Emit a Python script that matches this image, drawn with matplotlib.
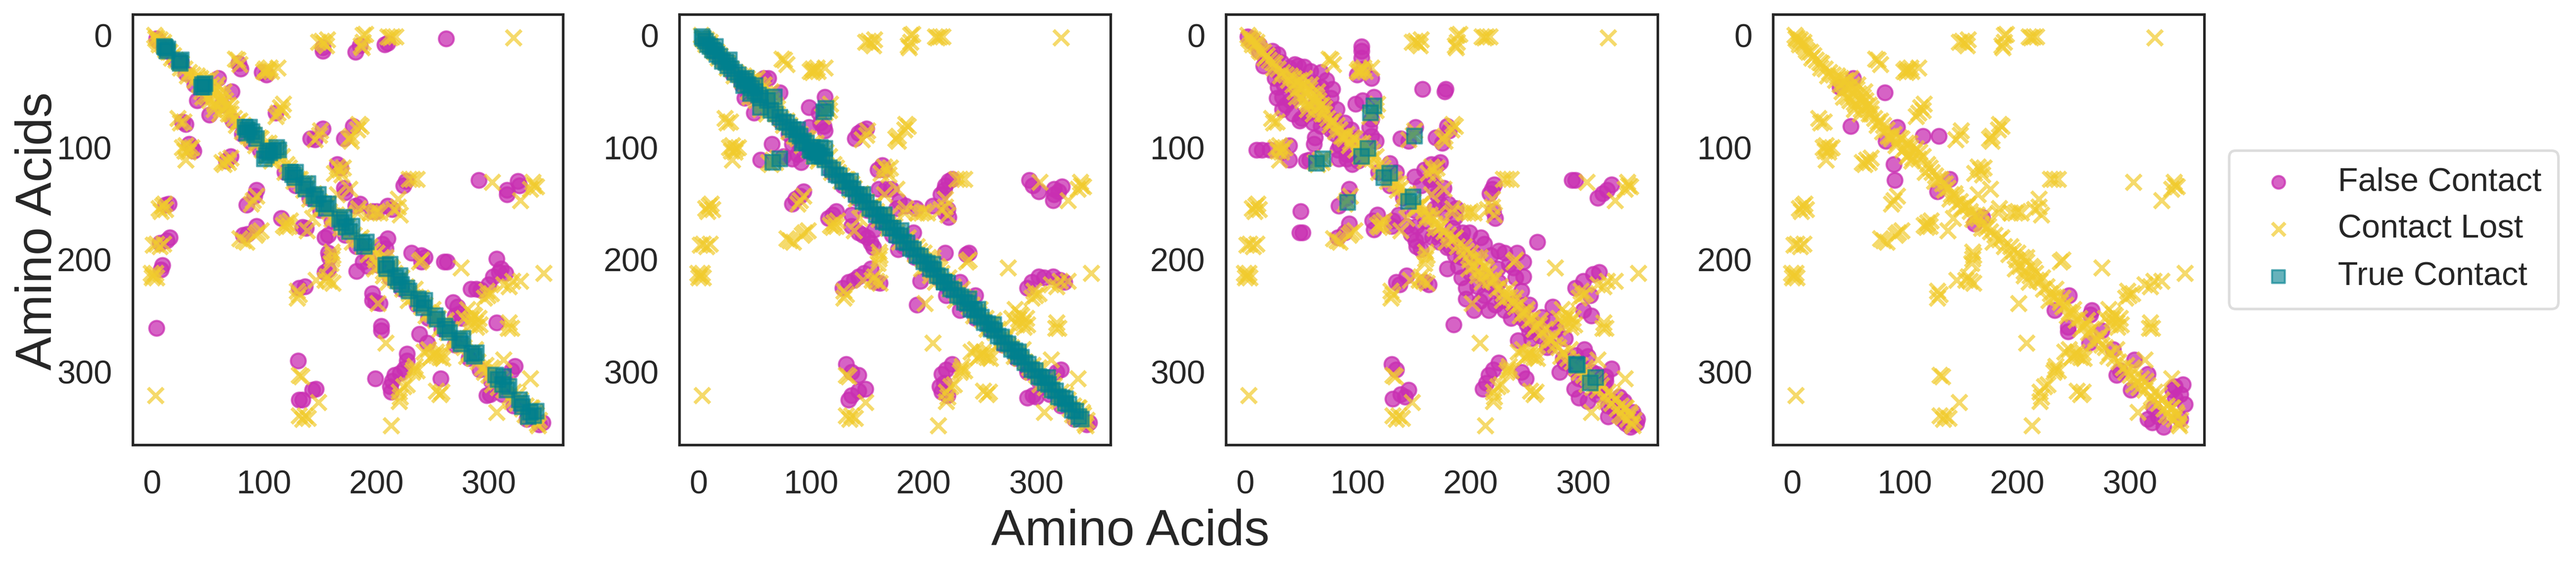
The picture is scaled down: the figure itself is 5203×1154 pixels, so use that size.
import numpy as np
import matplotlib
matplotlib.use("Agg")
import matplotlib.pyplot as plt

plt.rcParams['font.family'] = ['Liberation Sans', 'DejaVu Sans']
INK = '#262626'
PURPLE = '#C92FB2'
YELLOW = '#F1CB2C'
TEAL = '#00808F'

tick_values = [0, 100, 200, 300]
axis_label = 'Amino Acids'
legend_labels = ['False Contact', 'Contact Lost', 'True Contact']

# Contact-lost points: the same native off-diagonal set appears in every panel
lost_off = [(153,7),(155,9),(151,5),(148,6),(156,4),(188,0),(188,6),(187,11),(190,-1),(186,9),(214,1),(212,2),(217,1),(210,1),(322,2),
 (76,22),(78,26),(74,21),(101,30),(105,29),(112,29),(101,33),(103,31),(99,32),(106,32),
 (114,64),(112,69),(117,61),(110,72),(116,67),(23,74),(25,78),(28,77),(184,79),(183,84),(186,81),
 (177,94),(177,90),(175,92),(149,89),(145,93),(150,85),(30,98),(29,103),(33,101),(35,100),(27,100),(30,111),(32,104),
 (66,111),(64,115),(70,109),(62,113),(68,113),(167,120),(162,123),(170,118),(169,124),(165,117),(232,128),(229,128),(236,128),
 (303,131),(340,134),(337,137),(342,135),(339,131),(328,147),(9,152),(6,154),(11,150),(8,157),(12,155),
 (90,147),(88,150),(93,143),(176,137),(165,142),(219,146),(215,155),(221,160),(219,153),(198,158),(194,158),(203,158),(200,157),
 (184,154),(183,158),(120,167),(117,169),(123,165),(119,171),(122,170),(143,163),(138,174),(94,176),(97,174),(92,178),(81,183),(78,181),(84,184),
 (1,187),(4,186),(10,186),(7,188),(1,214),(3,212),(0,216),(4,216),(-1,212),(160,193),(160,199),(159,203),(161,196),
 (146,218),(156,215),(161,221),(158,219),(154,218),(129,228),(129,234),(131,231),(201,239),(240,200),(238,202),(275,207),(349,212),
 (328,219),(321,219),(313,222),(318,224),(299,232),(296,234),(302,230),(298,228),
 (285,248),(288,256),(283,258),(291,252),(287,250),(284,253),(289,260),(281,244),(278,252),(292,258),
 (318,256),(320,261),(317,261),(208,274),(253,285),(246,280),(250,285),(256,287),(248,287),(258,283),(242,282),(253,282),(259,288),
 (233,298),(234,295),(232,300),(236,299),(131,303),(133,304),(224,313),(220,318),(220,326),(221,322),(227,311),
 (258,318),(253,317),(256,320),(3,321),(148,327),(136,339),(131,339),(139,341),(134,342),(213,348),(307,336),(337,306),(313,289),(303,311)]

lost_diag_x = [2,4,5,7,9,11,12,14,16,19,21,24,26,29,33,36,38,40,42,43,44,46,47,49,50,52,54,55,57,58,60,61,63,64,66,68,70,73,76,78,81,84,87,90,93,
 95,98,101,103,105,107,110,112,116,120,124,127,130,133,135,138,141,144,146,149,152,155,158,161,165,168,170,172,176,180,184,188,192,196,199,
 202,204,206,208,211,214,217,220,223,226,229,232,235,238,240,243,246,249,252,255,258,261,263,266,269,272,275,278,282,286,290,294,297,300,304,
 307,310,313,316,319,322,325,328,330,333,335,337,339,341,343,345]
lost_diag_y = [0,2,5,4,8,10,13,15,15,18,22,24,25,30,33,35,40,36,44,38,50,41,47,55,46,38,52,60,48,44,57,66,55,50,63,70,65,74,77,76,80,84,90,88,95,
 91,102,96,106,100,109,101,110,108,115,122,125,128,132,138,136,142,141,150,148,153,152,157,161,163,168,160,172,175,178,182,188,195,192,200,
 206,198,210,202,214,208,218,219,226,224,230,233,233,238,242,240,247,248,254,252,259,258,265,262,270,271,276,278,283,288,291,296,294,303,305,
 309,306,316,312,322,318,328,325,333,330,340,332,342,336,346,343]
lost_dense = [(3,3),(6,8),(10,6),(17,20),(25,29),(31,36),(48,40),(53,44),(45,55),(51,58),(56,62),(59,52),(62,60),(65,58),(68,62),(60,70),(55,66),(70,70),(75,80),(80,86),(85,90),(88,92),
 (92,98),(97,92),(100,100),(104,96),(108,104),(106,112),(102,108),(113,104),(118,122),(122,118),(126,130),(132,128),(136,132),(140,146),(145,144),(150,154),(156,150),(160,164),(164,160),
 (168,172),(174,170),(178,184),(186,180),(194,188),(200,194),(198,208),(208,198),(206,214),(212,206),(210,220),(216,212),(222,216),(228,236),(234,226),(240,234),(244,250),(250,244),
 (256,262),(262,254),(268,274),(274,268),(280,286),(288,280),(296,300),(302,296),(308,314),(314,308),(320,326),(326,320),(332,338),(338,332),(344,348),(342,338)]

# False-contact points near the diagonal, shared by the first three panels
false_diag = [(5,5),(12,14),(20,22),(30,34),(38,44),(46,54),(62,62),(72,76),(80,88),(88,95),(96,102),(118,122),(128,134),(140,145),(150,156),
 (160,165),(172,178),(182,188),(192,198),(202,205),(212,216),(222,226),(236,240),(246,252),(258,262),(270,276),(282,288),(292,298),(302,308),(312,320),(322,330),(334,342),(345,347)]

false_1 = [(4,3),(26,24),(59,38),(71,50),(40,58),(51,71),(152,14),(152,11),(185,9),(181,15),(210,7),(207,8),(262,3),(77,25),(79,30),(102,35),(98,33),(110,69),
 (27,77),(30,79),(152,83),(141,92),(145,93),(179,81),(171,92),(33,97),(37,103),(35,100),(70,108),(66,112),(165,115),(168,118),(226,130),(224,134),(291,129),(326,130),(327,134),(316,142),(316,138),
 (171,136),(172,140),(93,138),(91,143),(84,151),(15,150),(12,151),(181,152),(185,150),(196,157),(200,157),(210,152),(214,155),(115,163),(137,172),(134,171),(93,170),(81,178),(85,177),
 (16,180),(13,183),(7,185),(154,180),(157,178),(157,194),(158,198),(210,181),(205,186),(208,190),(231,194),(240,196),(240,202),(243,198),(263,202),(260,202),(8,209),(9,205),
 (182,210),(188,202),(192,206),(154,211),(157,209),(307,199),(309,211),(304,215),(315,212),(311,208),(284,226),(293,227),(300,222),(289,226),(131,225),(136,224),(196,230),(199,238),(196,236),(203,239),
 (268,238),(274,248),(272,242),(276,252),(270,250),(307,256),(4,261),(204,263),(204,259),(238,266),(245,274),(227,284),(225,297),(227,290),(216,303),(221,301),(199,306),(212,313),(214,308),(213,318),
 (130,290),(143,316),(146,315),(134,325),(131,325),(257,306),(323,295),(320,299),(298,321),(301,320),(348,345)]
false_2 = [(58,38),(62,38),(41,56),(44,53),(72,51),(49,69),(98,64),(112,55),(107,69),(111,81),(112,85),(108,78),(98,82),(83,97),(65,97),(55,111),(75,108),(83,110),(91,113),(88,106),
 (149,83),(142,87),(139,92),(145,85),(163,116),(159,120),(165,120),(225,128),(219,134),(215,142),(222,130),(218,138),(166,137),(171,137),(160,137),(176,154),(184,152),(193,154),(178,148),(208,152),(221,155),(222,162),(219,158),
 (294,129),(302,139),(297,134),(315,147),(316,137),(323,135),(316,142),(320,139),(93,139),(86,146),(83,150),(90,143),(119,160),(115,163),(122,157),(136,160),(136,170),(142,176),(150,180),(155,189),(156,173),(146,178),(153,185),
 (191,176),(177,191),(240,194),(238,195),(219,194),(153,208),(142,215),(133,220),(128,225),(138,218),(147,212),(157,220),(161,221),(197,219),(194,240),(232,220),(246,232),(220,232),(232,245),
 (302,215),(296,220),(292,225),(315,215),(325,220),(307,216),(321,218),(131,293),(136,300),(142,303),(148,315),(136,321),(142,317),(133,325),(225,293),(216,302),(214,313),(221,321),(218,310),(220,298),(216,318),
 (322,298),(318,300),(297,321),(292,323),(300,322),(292,300),(347,345)]
false_3 = [(2,1),(6,3),(22,17),(29,17),(16,27),(27,30),(39,29),(47,27),(29,46),(33,55),(33,66),(58,32),(67,33),(77,48),(67,46),(72,63),(48,76),(81,66),(67,81),(40,58),(55,70),(45,45),(42,36),(60,42),
 (103,10),(103,14),(103,20),(99,35),(112,38),(105,30),(157,48),(177,50),(178,48),(98,61),(104,58),(114,55),(110,82),(116,94),(112,75),(151,82),(138,92),(145,94),(179,81),(169,91),(175,96),(181,85),
 (10,102),(15,102),(22,102),(39,98),(39,111),(33,104),(61,97),(57,111),(54,112),(62,91),(84,98),(83,110),(95,115),(90,106),(165,115),(159,120),(173,113),(165,128),(170,116),
 (221,133),(217,141),(219,137),(293,129),(290,129),(317,141),(325,133),(321,138),(313,145),(92,137),(90,145),(83,152),(49,157),(51,176),(48,176),(92,168),(82,180),(88,176),(117,160),(114,173),(113,165),
 (131,165),(143,170),(151,183),(156,191),(147,177),(152,188),(168,137),(173,150),(168,154),(187,154),(180,150),(193,176),(179,189),(199,176),(183,180),(220,157),(222,163),(209,180),(230,194),(241,194),(247,202),(238,207),(225,192),
 (259,184),(179,208),(189,206),(196,225),(196,235),(203,245),(208,237),(216,245),(216,222),(247,215),(245,228),(225,220),(230,245),(134,220),(143,214),(137,222),(159,220),(163,222),
 (185,258),(273,242),(300,245),(307,250),(314,211),(300,219),(293,225),(306,232),(309,213),(263,251),(272,255),(252,264),(258,258),(242,272),(130,293),(134,298),(145,316),(131,324),(138,320),(142,322),
 (225,292),(216,303),(211,315),(220,298),(214,310),(245,300),(249,306),(301,280),(293,285),(279,300),(284,292),(296,323),(304,326),(292,315),(325,297),(320,308),(325,329),(318,312),(312,302),
 (348,342),(342,349),(334,339),(347,346),(338,346),(326,326)]
false_3_band = [(12,8),(18,22),(24,14),(32,24),(26,38),(36,34),(44,26),(34,44),(46,36),(52,28),(28,56),(36,62),(42,70),(50,74),(60,78),(66,72),(76,56),(72,40),(68,56),(80,76),(76,84),(88,78),(86,90),(94,84),(100,92),(82,102),(90,110),(100,112),(112,90),
 (128,114),(134,122),(150,126),(156,134),(164,128),(170,142),(176,136),(178,158),(186,162),(130,170),(136,160),(152,170),(158,178),(166,180),(172,184),(184,172),(192,182),(186,196),(198,188),(204,196),(212,186),(218,196),(200,212),(192,216),(206,224),(212,232),
 (224,208),(234,204),(240,216),(228,236),(222,240),(240,238),(252,240),(246,246),(236,252),(250,258),(262,268),(276,262),(284,270),(254,270),(268,278),(292,290),(300,296),(304,286),(296,306),(308,300),(312,316),(320,304),(332,322),(328,334),(336,326),(344,336),(322,340)]

false_4 = [(82,51),(52,81),(93,82),(83,94),(116,90),(130,90),(90,115),(91,129),(42,46),(54,38),(140,128),(129,139),(169,162),(162,168),(246,232),(233,245),(266,245),(265,249),
 (245,264),(245,260),(264,274),(275,263),(285,280),(304,289),(288,303),(291,299),(316,302),(301,316),(340,313),(347,311),(349,329),(316,342),(330,349),(321,332),(340,323),(345,342),(325,340),(338,316),(320,345),(345,320)]

true_1 = [(12,11),(13,14),(11,10),(14,12),(24,23),(25,25),(26,22),(45,44),(46,46),(44,46),(47,43),(85,84),(83,82),(87,82),(84,87),(91,89),(89,86),(93,92),(102,107),(103,103),(100,110),(105,105),(111,100),(108,103),(113,102),(125,124),(127,127),(123,122),(128,122),(137,137),(135,134),(139,132),(146,146),(144,143),(148,142),(155,154),(153,150),(157,150),
 (169,167),(167,164),(171,162),(176,175),(173,171),(178,170),(189,188),(187,185),(191,184),(209,208),(208,205),(212,204),(219,219),(217,216),(222,222),(221,214),(229,228),(227,225),(240,239),(237,235),(242,243),(243,236),(254,253),(252,250),(263,262),(265,265),(261,259),(275,275),(274,272),(277,270),(287,286),(285,284),(289,283),
 (308,307),(313,304),(316,316),(312,311),(306,303),(318,313),(329,328),(330,331),(327,325),(340,339),(337,336),(342,335),(335,340)]
true_2_x = [3,4,6,8,10,12,14,16,19,21,24,26,29,32,35,38,41,44,47,50,53,64,68,72,75,78,81,84,87,90,93,96,99,101,104,107,110,112,116,119,122,125,128,131,134,137,140,143,146,149,152,155,158,161,164,167,170,
 173,176,179,182,185,188,191,194,197,200,203,206,209,212,215,218,221,224,227,230,233,236,239,242,245,248,251,254,257,260,263,266,269,272,275,278,281,284,287,290,293,296,299,302,305,308,311,314,317,320,323,326,329,332,335,338,340]
true_2_y = [1,3,5,8,10,13,14,17,19,23,24,27,30,33,35,39,41,44,47,50,53,67,70,73,77,78,82,84,88,90,94,96,102,100,104,107,108,111,118,120,124,125,130,131,136,137,142,143,148,149,154,155,160,161,166,167,172,
 172,178,179,184,185,190,191,196,197,202,203,208,209,214,215,220,221,226,227,232,233,238,239,244,245,250,251,256,257,262,263,268,269,274,275,280,281,286,287,292,293,298,299,304,305,310,311,316,317,322,323,328,329,334,335,340,342]
true_2_extra = [(55,56),(67,55),(55,64),(61,58),(113,65),(111,68),(66,113),(72,110),(105,105),(100,103),(108,100),(112,101),(103,108),(15,10),(27,22),(40,45),(42,38),(50,45),(46,52),(88,84),(92,96),(135,130),(146,142),(165,160),(180,174),(208,204),(218,220),(240,235),(248,244),(262,258),(284,282),(310,305),(326,324)]
true_3 = [(114,63),(111,69),(150,90),(69,110),(63,114),(109,101),(103,108),(128,123),(123,127),(149,144),(145,148),(91,149),(294,293),(295,294),(311,305),(306,310)]
true_4 = []

def xy(points):
    if len(points) == 0:
        return np.empty(0), np.empty(0)
    arr = np.array(points, dtype=float)
    return arr[:, 0], arr[:, 1]

lost_pts = lost_off + list(zip(lost_diag_x, lost_diag_y)) + lost_dense
panels = [
    (false_1 + false_diag, true_1),
    (false_2 + false_diag, list(zip(true_2_x, true_2_y)) + true_2_extra),
    (false_3 + false_3_band + false_diag, true_3),
    (false_4, true_4),
]
lefts = [268, 1372, 2476, 3581]
rights = [1137, 2243, 3348, 4452]
W, H = 5203, 1154
top, bottom = 29, 899

fig = plt.figure(figsize=(W/300, H/300), dpi=300, facecolor='white')
handles = None
for i, (fp, tp) in enumerate(panels):
    ax = fig.add_axes([lefts[i]/W, 1-bottom/H, (rights[i]-lefts[i])/W, (bottom-top)/H])
    fx, fy = xy(fp)
    lx, ly = xy(lost_pts)
    tx, ty = xy(tp)
    h1 = ax.scatter(fx, fy, s=52, marker='o', color=PURPLE, alpha=0.75, linewidths=1.0, label=legend_labels[0])
    h2 = ax.scatter(lx, ly, s=55, marker='x', color=YELLOW, alpha=0.7, linewidths=1.7, label=legend_labels[1])
    h3 = ax.scatter(tx, ty, s=52, marker='s', color=TEAL, alpha=0.6, linewidths=1.0, label=legend_labels[2])
    if handles is None:
        handles = [h1, h2, h3]
    ax.set_xlim(-17.3, 366)
    ax.set_ylim(365, -18.7)
    ax.set_xticks(tick_values)
    ax.set_yticks(tick_values)
    ax.tick_params(axis='y', length=0, labelsize=16, labelcolor=INK, pad=10)
    ax.tick_params(axis='x', length=0, labelsize=16, labelcolor=INK, pad=12)
    for s in ax.spines.values():
        s.set_color(INK)
        s.set_linewidth(1.25)

fig.text(78/W, 1-467/H, axis_label, rotation=90, fontsize=24.5, color=INK, ha='center', va='center')
fig.text(2283/W, 1-1102/H, axis_label, fontsize=24.5, color=INK, ha='center', va='baseline')

leg = fig.legend(handles, legend_labels, loc='center left', bbox_to_anchor=(4502/W, 1-464/H),
                 fontsize=16, frameon=True, labelcolor=INK, borderaxespad=0, scatterpoints=1,
                 markerscale=0.85, handletextpad=0.8, borderpad=0.5)
leg.get_frame().set_edgecolor('#d5d5d5')
leg.get_frame().set_linewidth(1.25)
fig.savefig('out.png', dpi=300)
